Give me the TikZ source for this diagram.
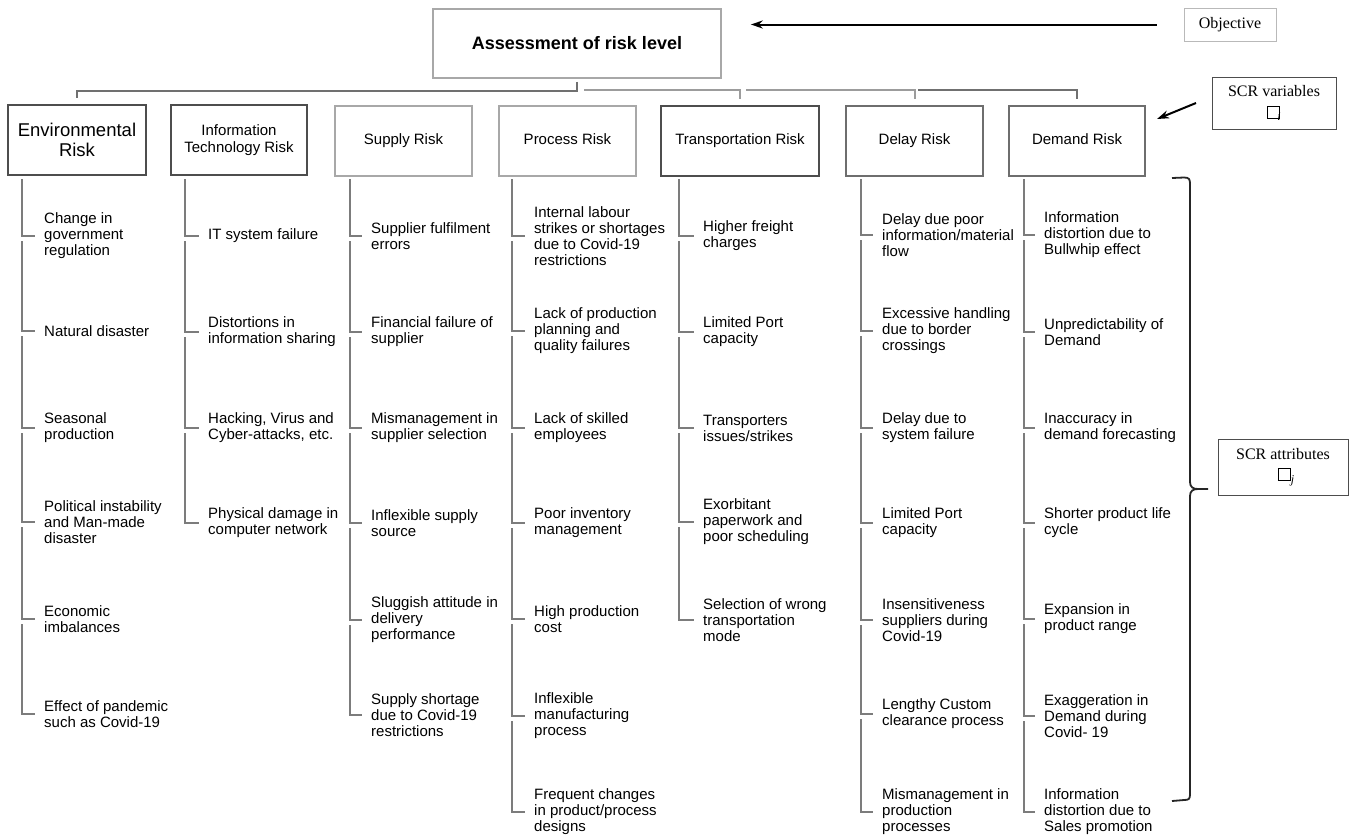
\documentclass[tikz,border=0pt]{standalone}
\usepackage{amssymb}
\usepackage{fontspec}
\setmainfont{Liberation Sans}
\newfontfamily\tms{Liberation Serif}
\usetikzlibrary{arrows.meta}
\definecolor{boxdark}{HTML}{4D4D4D}
\definecolor{boxmid}{HTML}{6E6E6E}
\definecolor{boxlight}{HTML}{A8A8A8}
\definecolor{treecol}{HTML}{7C7C7C}
\definecolor{conleft}{HTML}{707070}
\definecolor{conright}{HTML}{9C9C9C}
\tikzset{
  riskbox/.style={draw=boxdark, line width=1.6pt, minimum height=70pt, inner sep=2pt, align=center,
    font=\fontsize{15}{17}\selectfont},
  oneline/.style={text height=11pt, text depth=3.5pt},
  item/.style={anchor=west, inner sep=0pt, align=left, font=\fontsize{15}{16}\selectfont},
  tree/.style={draw=treecol, line width=1.8pt, shorten >=9pt},
  conL/.style={draw=conleft, line width=2.4pt},
  conR/.style={draw=conright, line width=2pt},
  arr/.style={line width=2pt, -{Stealth[length=12pt,width=8pt]}},
  notebox/.style={draw=boxdark, line width=0.8pt, align=center, inner sep=2pt, font=\tms\fontsize{16}{20}\selectfont},
  bracepath/.style={line width=1.8pt, draw=black!85},
}
\newcommand\symbx[2]{{\setlength\fboxsep{0pt}\setlength\fboxrule{0.9pt}\fbox{\rule{0pt}{11pt}\rule{11pt}{0pt}}}\kern#2\raisebox{-3pt}{\fontsize{12}{12}\selectfont\itshape #1}}
\newcommand\riskcol[4]{%
  \coordinate (#1s0) at (#2,179);
  \foreach \yy/\txt [count=\k, remember=\k as \pk (initially 0)] in {#4} {
    \node[item] (#1i\k) at (#3,\yy) {\txt};
    \draw[tree] (#1s\pk) |- (#1i\k.west);
    \coordinate (#1s\k) at (#2,\yy+5);
  }%
}
\begin{document}
\begin{tikzpicture}[x=1pt,y=-1pt]
\useasboundingbox (0,0) rectangle (1351,836);
\fill[white] (0,0) rectangle (1351,836);

% top node
\node[draw=boxlight, line width=1.6pt, minimum width=288pt, minimum height=69pt,
  font=\bfseries\fontsize{18}{20}\selectfont] (top) at (577,43.5) {Assessment of risk level};
\node[draw=boxlight!80, line width=0.8pt, minimum width=92pt, minimum height=33pt,
  font=\tms\fontsize{16}{18}\selectfont, inner sep=1pt] (obj) at (1230,24.5) {Objective};

% risk boxes
\node[riskbox, minimum width=138pt, font=\fontsize{18.5}{20}\selectfont] (r1) at (77,140) {Environmental\\Risk};
\node[riskbox, minimum width=136pt] (r2) at (239,140) {Information\\Technology Risk};
\node[riskbox, oneline, draw=boxlight, minimum width=137pt] (r3) at (403.5,141) {Supply Risk};
\node[riskbox, oneline, draw=boxlight, minimum width=137pt] (r4) at (567.5,141) {Process Risk};
\node[riskbox, oneline, minimum width=158pt] (r5) at (740,141) {Transportation Risk};
\node[riskbox, oneline, draw=boxmid, minimum width=137pt] (r6) at (914.5,141) {Delay Risk};
\node[riskbox, oneline, draw=boxmid, minimum width=136pt] (r7) at (1077,141) {Demand Risk};

% connectors from top
\draw[conL, shorten <=3pt, shorten >=6pt] (top.south) -- ++(0,12) -| (r1.north);
\coordinate (j1) at (584,90);
\coordinate (j2) at (746,90);
\coordinate (j3) at (918,90);
\draw[conR, shorten >=6pt] (j1) -| (r5.north);
\draw[conR, shorten >=6pt] (j2) -| (r6.north);
\draw[conR, draw=conleft, shorten >=6pt] (j3) -| (r7.north);

% objective arrow
\draw[arr, shorten <=27pt, shorten >=29pt] (obj.west) -- (top.east |- obj.west);

% SCR variables
\node[notebox, minimum width=124pt, minimum height=52pt] (scrv) at (1274,103) {SCR variables\\[1pt]\symbx{i}{-3pt}};
\coordinate (va) at (1196,103);
\coordinate (vb) at (1157,119);
\draw[arr] (va) -- (vb);

% SCR attributes
\node[notebox, minimum width=130pt, minimum height=56pt] (scra) at (1283,467) {SCR attributes\\[1pt]\hspace*{6pt}\symbx{j}{0pt}};

% brace
\coordinate (bt) at (1198,489);
\coordinate (be) at (1208,489);
\draw[bracepath] (1172,178) -- (1184,177.5) .. controls (1189,177.5) and (1190,179) .. (1190,184)
  -- (1190,482) .. controls (1190,487) and (1193,489) .. (bt) -- (be);
\draw[bracepath] (bt) .. controls (1193,489) and (1190,491) .. (1190,496)
  -- (1190,794) .. controls (1190,799) and (1189,800) .. (1184,800) -- (1172,801);

% columns
\riskcol{a}{22}{44}{236/{Change in\\government\\regulation},331/{Natural disaster},428/{Seasonal\\production},522/{Political instability\\and Man-made\\disaster},619/{Economic\\imbalances},714/{Effect of pandemic\\such as Covid-19}}
\riskcol{b}{185}{208}{236/{IT system failure},332/{Distortions in\\information sharing},428/{Hacking, Virus and\\Cyber-attacks, etc.},523/{Physical damage in\\computer network}}
\riskcol{c}{350}{371}{236/{Supplier fulfilment\\errors},332/{Financial failure of\\supplier},428/{Mismanagement in\\supplier selection},523/{Inflexible supply\\source},620/{Sluggish attitude in\\delivery\\performance},715/{Supply shortage\\due to Covid-19\\restrictions}}
\riskcol{d}{512}{534}{236/{Internal labour\\strikes or shortages\\due to Covid-19\\restrictions},331/{Lack of production\\planning and\\quality failures},428/{Lack of skilled\\employees},523/{Poor inventory\\management},619/{High production\\cost},716/{Inflexible\\manufacturing\\process},812/{Frequent changes\\in product/process\\designs}}
\riskcol{e}{679}{703}{236/{Higher freight\\charges},332/{Limited Port\\capacity},428/{Transporters\\issues/strikes},522/{Exorbitant\\paperwork and\\poor scheduling},620/{Selection of wrong\\transportation\\mode}}
\riskcol{f}{861}{882}{235/{Delay due poor\\information/material\\flow},331/{Excessive handling\\due to border\\crossings},428/{Delay due to\\system failure},523/{Limited Port\\capacity},620/{Insensitiveness\\suppliers during\\Covid-19},714/{Lengthy Custom\\clearance process},812/{Mismanagement in\\production\\processes}}
\riskcol{g}{1024}{1044}{235/{Information\\distortion due to\\Bullwhip effect},332/{Unpredictability of\\Demand},428/{Inaccuracy in\\demand forecasting},523/{Shorter product life\\cycle},619/{Expansion in\\product range},716/{Exaggeration in\\Demand during\\Covid- 19},812/{Information\\distortion due to\\Sales promotion}}
\end{tikzpicture}
\end{document}
